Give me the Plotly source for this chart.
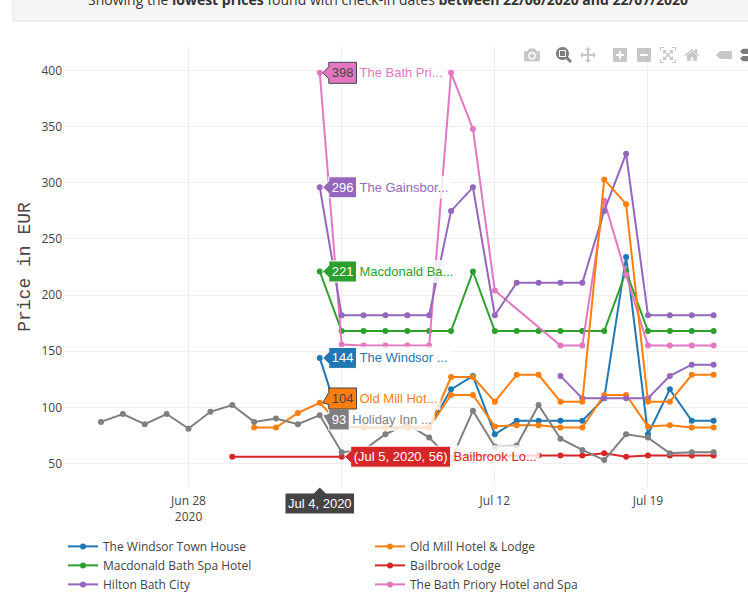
"""
Lowest hotel prices in Bath by check-in date, with the hover labels open on Jul 4
"""

import plotly.graph_objects as go

N = None  # no price found for that day

# Check-in days, Jun 24 to Jul 22 2020
days = ["2020-06-%02d" % d for d in range(24, 31)] + ["2020-07-%02d" % d for d in range(1, 23)]

windsor = [N, N, N, N, N, N, N, N, N, N, 144, 83, 82, 82, 82, 82, 116, 128, 76, 88, 88, 88, 88, 108, 234, 76, 116, 88, 88]
old_mill = [N, N, N, N, N, N, N, 82, 82, 95, 104, 83, 82, 82, 82, 82, 111, 111, 83, 84, 84, 82, 82, 111, 111, 83, 84, 82, 82]
macdonald = [N, N, N, N, N, N, N, N, N, N, 221, 168, 168, 168, 168, 168, 168, 221, 168, 168, 168, 168, 168, 168, 221, 168, 168, 168, 168]
bailbrook = [N, N, N, N, N, N, 56, N, N, N, N, 56, N, N, N, N, N, N, N, N, 57, 57, 57, 59, 56, 57, 57, 57, 57]
hilton = [N, N, N, N, N, N, N, N, N, N, N, N, N, N, N, N, N, N, N, N, N, 128, 108, 108, 108, 108, 128, 138, 138]
priory = [N, N, N, N, N, N, N, N, N, N, 398, 156, 155, 155, 155, 155, 398, 348, 204, N, N, 155, 155, 284, 218, 155, 155, 155, 155]
gainsborough = [N, N, N, N, N, N, N, N, N, N, 296, 182, 182, 182, 182, 182, 275, 296, 182, 211, 211, 211, 211, 275, 326, 182, 182, 182, 182]
holiday_inn = [87, 94, 85, 94, 81, 96, 102, 87, 90, 85, 93, 60, 62, 76, 85, 73, 53, 97, 65, 66, 102, 72, 62, 53, 76, 73, 59, 60, 60]
orange_2 = [N, N, N, N, N, N, N, N, N, N, N, N, 82, 82, 82, 82, 127, 127, 105, 129, 129, 105, 105, 303, 281, 105, 105, 129, 129]

y_ticks = [50, 100, 150, 200, 250, 300, 350, 400]

series = [
    ("The Windsor Town House", windsor, "#1f77b4", True),
    ("Old Mill Hotel & Lodge", old_mill, "#ff7f0e", True),
    ("Macdonald Bath Spa Hotel", macdonald, "#2ca02c", True),
    ("Bailbrook Lodge", bailbrook, "#d62728", True),
    ("Hilton Bath City", hilton, "#9467bd", True),
    ("The Bath Priory Hotel and Spa", priory, "#e377c2", True),
    ("The Gainsborough Bath Spa", gainsborough, "#9467bd", True),
    ("Holiday Inn Bath City", holiday_inn, "#7f7f7f", True),
    ("Other hotel", orange_2, "#ff7f0e", False),
]

fig = go.Figure()
for name, values, color, in_legend in series:
    fig.add_trace(go.Scatter(x=days, y=values, name=name, mode="lines+markers", connectgaps=True,
                             showlegend=in_legend, line=dict(color=color, width=2), marker=dict(size=6)))

fig.update_layout(
    width=762, height=660, autosize=False,
    margin=dict(l=63, r=11, t=47, b=173),
    font=dict(family="Open Sans", size=12, color="#444"),
    plot_bgcolor="white", paper_bgcolor="white",
    hovermode="x", hoverdistance=30, dragmode="zoom",
    xaxis=dict(range=["2020-06-22 06:20", "2020-07-23 17:00"], gridcolor="#eee", zeroline=False, showline=False,
               hoverformat="%b %-d, %Y", ticklabelstandoff=5),
    yaxis=dict(range=[29, 421], tickvals=y_ticks, gridcolor="#eee", zeroline=False, showline=False,
               title=dict(text="Price in EUR", font=dict(family="Liberation Mono", size=18), standoff=6)),
    legend=dict(orientation="h", x=0, y=-0.102, xanchor="left", yanchor="top",
                entrywidth=262, entrywidthmode="pixels", font=dict(size=12)),
    # the info box that sits above the chart on the page
    shapes=[dict(type="rect", xref="paper", yref="paper", x0=-0.0727, x1=1.1, y0=1.0591, y1=1.2,
                 fillcolor="#f5f5f5", line=dict(color="#e3e3e3", width=1), layer="below")],
    annotations=[dict(text="Showing the <b>lowest prices</b> found with check-in dates <b>between 22/06/2020 and 22/07/2020</b>",
                      xref="paper", yref="paper", x=0.472, y=1.107, xanchor="center", yanchor="middle",
                      showarrow=False, font=dict(size=14, color="#333"))],
)

# open the hover labels on Jul 4 and put the page flush with the window
post = """
document.body.style.margin = '0';
document.documentElement.style.overflow = 'hidden';
var gd = document.getElementById('{plot_id}');
gd.querySelector('.modebar-container').style.top = '42px';
Plotly.Fx.hover(gd, {xval: Date.UTC(2020, 6, 4)}, 'xy');
"""

fig.write_html("out.html", post_script=post, config=dict(
    displayModeBar=True, displaylogo=False,
    modeBarButtons=[["toImage"], ["zoom2d", "pan2d"], ["zoomIn2d", "zoomOut2d", "autoScale2d", "resetScale2d"],
                    ["hoverClosestCartesian", "hoverCompareCartesian"]]))
